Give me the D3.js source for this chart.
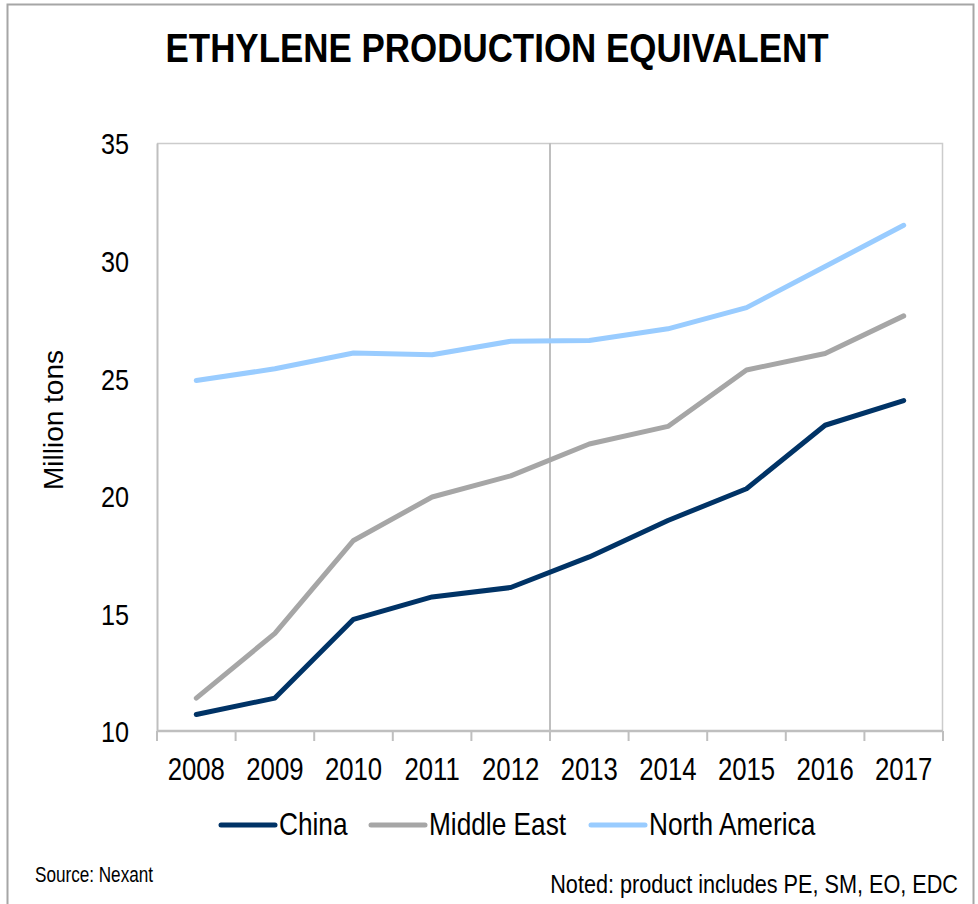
<!DOCTYPE html>
<html>
<head>
<meta charset="utf-8">
<script src="https://cdn.jsdelivr.net/npm/d3@7"></script>
<style>
  body { margin: 0; background: #fff; }
  text { font-family: "Liberation Sans", Arial, sans-serif; fill: #000; }
</style>
</head>
<body>
<div id="chart"></div>
<script>
var years = ["2008", "2009", "2010", "2011", "2012", "2013", "2014", "2015", "2016", "2017"]
var china = [10.7, 11.4, 14.75, 15.7, 16.1, 17.4, 18.95, 20.3, 23.0, 24.05]
var middleEast = [11.4, 14.15, 18.1, 19.95, 20.85, 22.2, 22.95, 25.35, 26.05, 27.65]
var northAmerica = [24.9, 25.4, 26.07, 26.0, 26.57, 26.6, 27.1, 28.0, 29.75, 31.5]
var yTicks = [10, 15, 20, 25, 30, 35]
var seriesNames = ["China", "Middle East", "North America"]
var seriesColors = ["#003366", "#a6a6a6", "#99ccff"]

var width = 978
var height = 904
var plotLeft = 157, plotRight = 943, plotTop = 143, plotBottom = 731

// squeeze text horizontally so it looks like Arial Narrow
function narrow(sel, factor) {
  sel.each(function() {
    var w = this.getComputedTextLength()
    d3.select(this)
      .attr("textLength", w * factor)
      .attr("lengthAdjust", "spacingAndGlyphs")
  })
}

var svg = d3.select("#chart")
  .append("svg")
  .attr("width", width)
  .attr("height", height)

// outer frame
svg.append("rect")
  .attr("x", 7.5)
  .attr("y", 4.5)
  .attr("width", 966)
  .attr("height", 910)
  .attr("fill", "none")
  .attr("stroke", "#a6a6a6")
  .attr("stroke-width", 2)

svg.append("text")
  .attr("x", 497)
  .attr("y", 62)
  .attr("text-anchor", "middle")
  .attr("font-size", "40px")
  .attr("font-weight", "bold")
  .attr("textLength", 663)
  .attr("lengthAdjust", "spacingAndGlyphs")
  .text("ETHYLENE PRODUCTION EQUIVALENT")

var xScale = d3.scaleBand()
  .domain(years)
  .range([plotLeft, plotRight])

var yScale = d3.scaleLinear()
  .domain([10, 35])
  .range([plotBottom, plotTop])

// plot frame (top and right)
svg.append("path")
  .attr("d", "M" + plotLeft + "," + (plotTop + 0.5) + "H" + (plotRight - 0.5) + "V" + plotBottom)
  .attr("fill", "none")
  .attr("stroke", "#cccccc")
  .attr("stroke-width", 1.5)

// vertical divider between 2012 and 2013
svg.append("line")
  .attr("x1", xScale("2013"))
  .attr("x2", xScale("2013"))
  .attr("y1", plotTop)
  .attr("y2", plotBottom)
  .attr("stroke", "#bfbfbf")
  .attr("stroke-width", 2)

var yAxis = d3.axisLeft(yScale)
  .tickValues(yTicks)
  .tickSize(0)
  .tickPadding(28)

var gy = svg.append("g")
  .attr("transform", "translate(" + plotLeft + ",0)")
  .call(yAxis)
gy.select(".domain").attr("stroke", "#bfbfbf").attr("stroke-width", 2)
gy.selectAll("text")
  .attr("font-size", "30px")
  .attr("font-family", null)
  .attr("dy", "0.36em")
narrow(gy.selectAll("text"), 0.84)

// x axis with ticks between categories
var gx = svg.append("g")
  .attr("transform", "translate(0," + plotBottom + ")")
gx.append("line")
  .attr("x1", plotLeft)
  .attr("x2", plotRight)
  .attr("stroke", "#bfbfbf")
  .attr("stroke-width", 2.5)
gx.selectAll(".tick")
  .data(years.concat(["end"]))
  .enter()
  .append("line")
  .attr("class", "tick")
  .attr("x1", function(d, i) { return plotLeft + i * xScale.step() })
  .attr("x2", function(d, i) { return plotLeft + i * xScale.step() })
  .attr("y1", 0)
  .attr("y2", 10)
  .attr("stroke", "#bfbfbf")
  .attr("stroke-width", 2)
gx.selectAll("text")
  .data(years)
  .enter()
  .append("text")
  .attr("x", function(d) { return xScale(d) + xScale.bandwidth() / 2 })
  .attr("y", 49)
  .attr("text-anchor", "middle")
  .attr("font-size", "31px")
  .text(function(d) { return d })
narrow(gx.selectAll("text"), 0.83)

svg.append("text")
  .attr("transform", "translate(63,420) rotate(-90)")
  .attr("text-anchor", "middle")
  .attr("font-size", "28px")
  .attr("textLength", 140)
  .attr("lengthAdjust", "spacingAndGlyphs")
  .text("Million tons")

var line = d3.line()
  .x(function(d, i) { return xScale(years[i]) + xScale.bandwidth() / 2 })
  .y(function(d) { return yScale(d) })

var allSeries = [china, middleEast, northAmerica]
svg.selectAll(".series")
  .data(allSeries)
  .enter()
  .append("path")
  .attr("class", "series")
  .attr("d", line)
  .attr("fill", "none")
  .attr("stroke", function(d, i) { return seriesColors[i] })
  .attr("stroke-width", 5)
  .attr("stroke-linecap", "round")
  .attr("stroke-linejoin", "round")

// legend
var legendX = [221, 371, 591]
var legend = svg.selectAll(".legend")
  .data(seriesNames)
  .enter()
  .append("g")
  .attr("class", "legend")
  .attr("transform", function(d, i) { return "translate(" + legendX[i] + ",825)" })
legend.append("line")
  .attr("x1", 0)
  .attr("x2", 54)
  .attr("stroke", function(d, i) { return seriesColors[i] })
  .attr("stroke-width", 5)
  .attr("stroke-linecap", "round")
legend.append("text")
  .attr("x", 58)
  .attr("y", 10)
  .attr("font-size", "32px")
  .text(function(d) { return d })
narrow(legend.selectAll("text"), 0.82)

svg.append("text")
  .attr("x", 35)
  .attr("y", 882)
  .attr("font-size", "22px")
  .attr("textLength", 118)
  .attr("lengthAdjust", "spacingAndGlyphs")
  .text("Source: Nexant")

// footnote squeezed with a transform so its box stays inside the picture
var note = svg.append("text")
  .attr("text-anchor", "end")
  .attr("font-size", "25px")
  .text("Noted: product includes PE, SM, EO, EDC")
var noteScale = 408 / note.node().getComputedTextLength()
note.attr("transform", "translate(958,893) scale(" + noteScale + ",1)")
</script>
</body>
</html>
